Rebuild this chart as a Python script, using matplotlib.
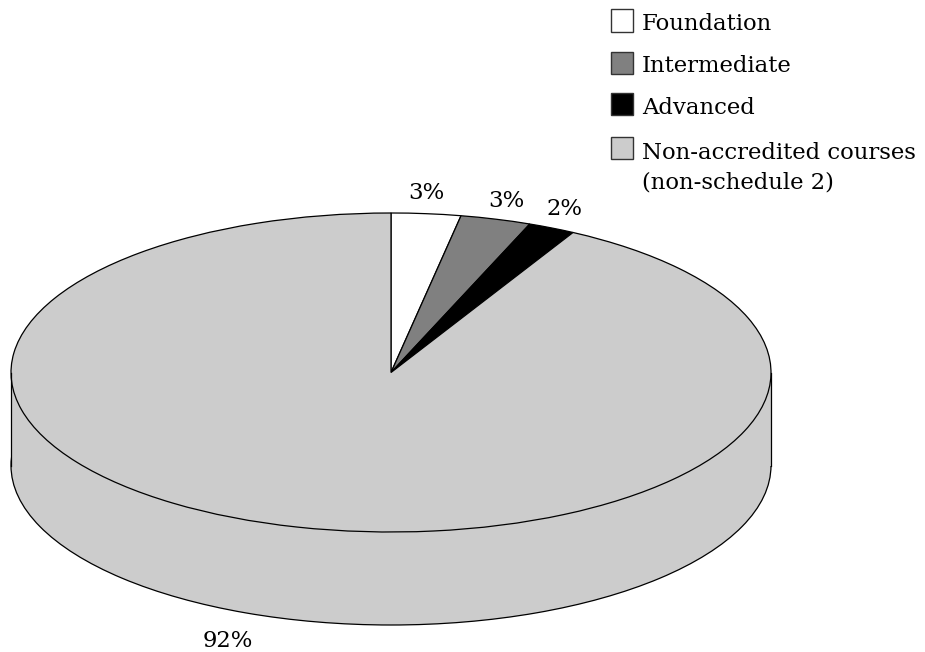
import matplotlib
matplotlib.use('Agg')
import matplotlib.pyplot as plt
from matplotlib.patches import Rectangle

categories = ['Foundation', 'Intermediate', 'Advanced', 'Non-accredited courses\n(non-schedule 2)']
values = [2.95, 3.0, 2.0, 92.05]
pct_labels = ['3%', '3%', '2%', '92%']
colors = ['#ffffff', '#808080', '#000000', '#cccccc']

plt.rcParams['font.family'] = ['DejaVu Serif']

W, H = 925, 652
cx, cy = 391, 372.5     # pie centre in pixels
rx, ry = 380, 159.5     # ellipse radii
depth = 93 / ry

fig = plt.figure(figsize=(W / 100, H / 100), dpi=100)
ax = fig.add_axes([0, 0, 1, 1])

edge = dict(edgecolor='black', linewidth=0.9)

# side of the disc: lower pie plus a band up to the top pie
ax.pie([sum(values)], colors=[colors[3]], center=(0, -depth), wedgeprops=edge)
ax.add_patch(Rectangle((-1, -depth), 2, depth, facecolor=colors[3], edgecolor='none'))
ax.plot([-1, -1], [-depth, 0], color='black', lw=0.9)
ax.plot([1, 1], [-depth, 0], color='black', lw=0.9)

# top face
ax.pie(values, colors=colors, startangle=90, counterclock=False, wedgeprops=edge)

ax.set_aspect('auto')
ax.set_xlim(-cx / rx, (W - cx) / rx)
ax.set_ylim(-(H - cy) / ry, cy / ry)
ax.axis('off')

# percent labels, centre x and baseline y in pixels
label_pos = [(426, 199), (506, 207), (565, 215), (228, 647)]
for lab, (x, y) in zip(pct_labels, label_pos):
    fig.text(x / W, 1 - y / H, lab, fontsize=16.4, ha='center', va='baseline', color='black')

# legend by hand, the last box lines up with the first line of its label
box_tops = [9.5, 52, 93, 137]
text_base = [30, 72, 114, 188]
for name, c, top, base in zip(categories, colors, box_tops, text_base):
    fig.add_artist(Rectangle((611 / W, 1 - (top + 22) / H), 22 / W, 22 / H, transform=fig.transFigure,
                             facecolor=c, edgecolor='#333333', linewidth=1))
    fig.text(642 / W, 1 - base / H, name, fontsize=16.4, ha='left', va='baseline',
             linespacing=1.44, color='black')

fig.savefig('out.png', dpi=100)
